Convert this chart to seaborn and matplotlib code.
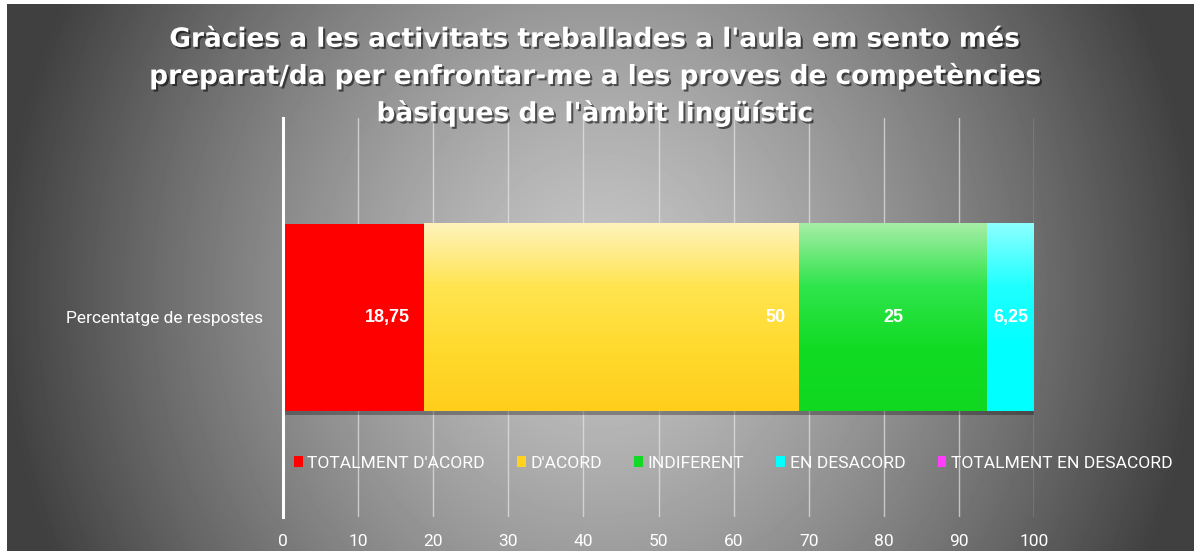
import numpy as np
import pandas as pd
import matplotlib
matplotlib.use("Agg")
import matplotlib.pyplot as plt
import matplotlib.patheffects as pe
from matplotlib.patches import Patch
from matplotlib.colors import LinearSegmentedColormap
import seaborn as sns

# dades
respostes = ["TOTALMENT D'ACORD", "D'ACORD", "INDIFERENT", "EN DESACORD", "TOTALMENT EN DESACORD"]
percentatges = [18.75, 50, 25, 6.25, 0]
serie = "Percentatge de respostes"
titol = ("Gràcies a les activitats treballades a l'aula em sento més\n"
         "preparat/da per enfrontar-me a les proves de competències\n"
         "bàsiques de l'àmbit lingüístic")

colors = ["#FF0000", "#FFD21F", "#12D926", "#00FFFF", "#FF3DFF"]
# degradat vertical (de dalt a baix) per a alguns segments
degradats = {
    "D'ACORD": ["#FFF3BC", "#FFE551", "#FFDA2E", "#FFCE1C"],
    "INDIFERENT": ["#A6EDA6", "#2FE54C", "#12DB24", "#10D820"],
    "EN DESACORD": ["#8CFFFF", "#20FFFF", "#00FFFF", "#00FFFF"],
}
etiqueta_final = ["TOTALMENT D'ACORD", "D'ACORD"]  # etiqueta a l'extrem interior

df = pd.DataFrame({"resposta": respostes, "valor": percentatges})
df["serie"] = serie
df["acumulat"] = df["valor"].cumsum()
df["inici"] = df["acumulat"] - df["valor"]

sns.set_style("white")
plt.rcParams["font.family"] = ["Roboto", "DejaVu Sans"]

W, H = 1194, 551
fig = plt.figure(figsize=(W / 100, H / 100), dpi=100, facecolor="white")

# fons amb degradat radial
bg = fig.add_axes([7 / W, 0, 1 - 7 / W, 1 - 4 / H], zorder=-10)
xx, yy = np.meshgrid(np.arange(7, W), np.arange(4, H))
d = np.sqrt(((xx - 600) / 600.0) ** 2 + ((yy - 290) / 650.0) ** 2)
d = np.clip(d, 0, 1) ** 1.3
gris = (198 - 134 * d) / 255.0
bg.imshow(gris, cmap="gray", vmin=0, vmax=1, aspect="auto", interpolation="bilinear")
bg.axis("off")

ax = fig.add_axes([283 / W, 34 / H, 751 / W, 399 / H])
ax.patch.set_alpha(0)

# barres apilades: es dibuixen els acumulats de més llarg a més curt
ordre = list(df.sort_values("acumulat", ascending=False, kind="stable")["resposta"])
paleta = dict(zip(respostes, colors))
sns.barplot(data=df, x="acumulat", y="serie", hue="resposta", hue_order=ordre,
            palette=paleta, dodge=False, width=0.94, orient="h", saturation=1,
            legend=False, ax=ax)

patches = {r: p for r, p in zip(ordre, ax.patches)}
for p in ax.patches:
    p.set_edgecolor("none")
patches[ordre[0]].set_path_effects([
    pe.SimplePatchShadow(offset=(1.5, -2.5), shadow_rgbFace="black", alpha=0.3), pe.Normal()])

ax.set_ylim(1, -1)
for r, cols in degradats.items():
    fila = df[df["resposta"] == r].iloc[0]
    if fila["valor"] <= 0:
        continue
    p = patches[r]
    cmap = LinearSegmentedColormap.from_list(r, cols)
    grad = np.linspace(0, 1, 200).reshape(-1, 1)
    y0, y1 = p.get_y(), p.get_y() + p.get_height()
    ax.imshow(grad, cmap=cmap, aspect="auto", origin="upper",
              extent=(fila["inici"], fila["acumulat"], y1, y0),
              interpolation="bilinear", zorder=p.get_zorder() + 0.1)
ax.set_xlim(0, 100)
ax.set_ylim(1, -1)

# etiquetes de valor
for _, fila in df.iterrows():
    if fila["valor"] <= 0:
        continue
    txt = f"{fila['valor']:g}".replace(".", ",")
    if fila["resposta"] in etiqueta_final:
        ax.annotate(txt, (fila["acumulat"], 0), xytext=(-10, 0), textcoords="offset points",
                    ha="right", va="center", color="white", fontsize=13, fontweight="bold",
                    family=["Liberation Sans", "DejaVu Sans"], zorder=5)
    else:
        ax.text((fila["inici"] + fila["acumulat"]) / 2, 0, txt, ha="center", va="center",
                color="white", fontsize=13, fontweight="bold",
                family=["Liberation Sans", "DejaVu Sans"], zorder=5)

# eixos i graella
ax.set_xticks(range(0, 101, 10))
ax.grid(axis="x", color="#e6e6e6", linewidth=1, alpha=0.7)
ax.grid(axis="y", visible=False)
ax.set_axisbelow(True)
for s in ["top", "right", "bottom"]:
    ax.spines[s].set_visible(False)
ax.spines["left"].set_color("white")
ax.spines["left"].set_linewidth(2.2)
ax.set_xlabel("")
ax.set_ylabel("")
ax.tick_params(axis="x", length=0, pad=12, labelsize=12.5, labelcolor="white")
ax.tick_params(axis="y", length=0, pad=14, labelsize=12.5, labelcolor="white")

# llegenda
mans = [Patch(facecolor=c, edgecolor="none") for c in colors]
ax.legend(mans, respostes, loc="center left", bbox_to_anchor=(11 / 751, 0.135), ncol=5,
          frameon=False, borderpad=0, borderaxespad=0, handlelength=0.5, handleheight=0.6,
          handletextpad=0.25, columnspacing=1.85, fontsize=12.6, labelcolor="white")

# títol
fig.text(595 / W, (H - 77) / H, titol, ha="center", va="center", color="white",
         fontsize=19, fontweight="bold", linespacing=1.42, family=["DejaVu Sans"],
         path_effects=[pe.withSimplePatchShadow(offset=(1.5, -1.5), shadow_rgbFace="black", alpha=0.55)])

fig.savefig("out.png", dpi=100, facecolor="white")
